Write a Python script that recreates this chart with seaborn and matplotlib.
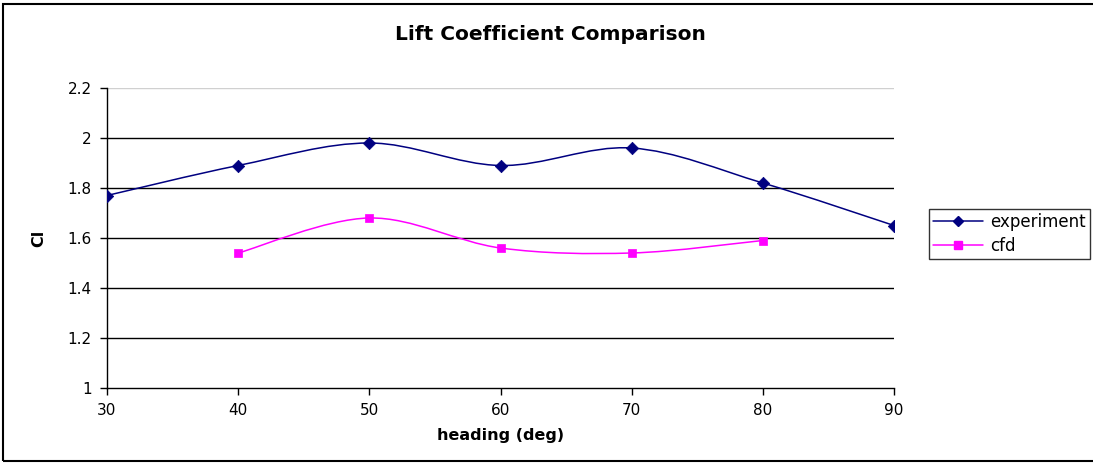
import numpy as np
import pandas as pd
import matplotlib
matplotlib.use("Agg")
import matplotlib.pyplot as plt
from matplotlib.path import Path
from matplotlib.patches import PathPatch, Rectangle
from matplotlib.lines import Line2D
import seaborn as sns

heading_exp = [30, 40, 50, 60, 70, 80, 90]
cl_exp = [1.77, 1.89, 1.98, 1.89, 1.96, 1.82, 1.65]
heading_cfd = [40, 50, 60, 70, 80]
cl_cfd = [1.54, 1.68, 1.56, 1.54, 1.59]
x_ticks = [30, 40, 50, 60, 70, 80, 90]
y_ticks = [1, 1.2, 1.4, 1.6, 1.8, 2, 2.2]
y_tick_labels = ["1", "1.2", "1.4", "1.6", "1.8", "2", "2.2"]

sns.set_theme(style="white")
plt.rcParams['font.family'] = ['DejaVu Sans']
for k in ["text.color", "axes.labelcolor", "xtick.color", "ytick.color"]:
    plt.rcParams[k] = "black"

fig = plt.figure(figsize=(10.93, 4.65), dpi=100)
ax = fig.add_axes([107/1093, 1-388/465, (894-107)/1093, 300/465])

def smooth_path(xs, ys, t=1/6):
    xs = np.asarray(xs, float); ys = np.asarray(ys, float)
    n = len(xs)
    verts = [(xs[0], ys[0])]
    codes = [Path.MOVETO]
    for i in range(n-1):
        p0 = (xs[max(i-1, 0)], ys[max(i-1, 0)])
        p1 = (xs[i], ys[i]); p2 = (xs[i+1], ys[i+1])
        p3 = (xs[min(i+2, n-1)], ys[min(i+2, n-1)])
        c1 = (p1[0] + (p2[0]-p0[0])*t, p1[1] + (p2[1]-p0[1])*t)
        c2 = (p2[0] - (p3[0]-p1[0])*t, p2[1] - (p3[1]-p1[1])*t)
        verts += [c1, c2, p2]
        codes += [Path.CURVE4]*3
    return Path(verts, codes)

navy = "#000080"
mag = "#FF00FF"

for y in y_ticks[1:-1]:
    ax.axhline(y, color="black", lw=1.0, zorder=1)
ax.axhline(y_ticks[-1], color="#d0d0d0", lw=1.0, zorder=1)

ax.add_patch(PathPatch(smooth_path(heading_exp, cl_exp), facecolor="none", edgecolor=navy, lw=1.1, zorder=2))
ax.add_patch(PathPatch(smooth_path(heading_cfd, cl_cfd), facecolor="none", edgecolor=mag, lw=1.1, zorder=2))

sns.scatterplot(x=heading_exp, y=cl_exp, ax=ax, marker="D", color=navy, s=40, edgecolor=navy, zorder=3)
sns.scatterplot(x=heading_cfd, y=cl_cfd, ax=ax, marker="s", color=mag, s=40, edgecolor=mag, zorder=3)

ax.set_xlim(30, 90)
ax.set_ylim(1, 2.2)
ax.set_xticks(x_ticks)
ax.set_yticks(y_ticks)
ax.set_xticklabels([str(v) for v in x_ticks], fontsize=11)
ax.set_yticklabels(y_tick_labels, fontsize=11)
ax.tick_params(axis="both", direction="out", length=5, width=1, color="black", pad=6, bottom=True, left=True)
for s in ["top", "right"]:
    ax.spines[s].set_visible(False)
for s in ["left", "bottom"]:
    ax.spines[s].set_color("black")
    ax.spines[s].set_linewidth(1)
ax.set_xlabel("heading (deg)", fontsize=11.5, fontweight="bold", labelpad=7)
ax.set_ylabel("Cl", fontsize=11.5, fontweight="bold", labelpad=15)
fig.text(550/1093, 1 - 35/465, "Lift Coefficient Comparison",
         ha="center", va="center", fontsize=14.5, fontweight="bold")

handles = [Line2D([], [], color=navy, marker="D", markersize=5.5, lw=1.1),
           Line2D([], [], color=mag, marker="s", markersize=5.5, lw=1.1)]
leg = fig.legend(handles, ["experiment", "cfd"], loc="upper left",
                 bbox_to_anchor=(929/1093, 1-209/465), fontsize=12, frameon=True,
                 fancybox=False, borderpad=0.25, handlelength=3.0, labelspacing=0.35,
                 handletextpad=0.4, borderaxespad=0)
leg.get_frame().set_edgecolor("black")
leg.get_frame().set_linewidth(1)

fig.patches.append(Rectangle((3/1093, 4/465), 1100/1093, 457/465, transform=fig.transFigure,
                             fill=False, edgecolor="black", lw=1.5))

fig.savefig("out.png", dpi=100)
